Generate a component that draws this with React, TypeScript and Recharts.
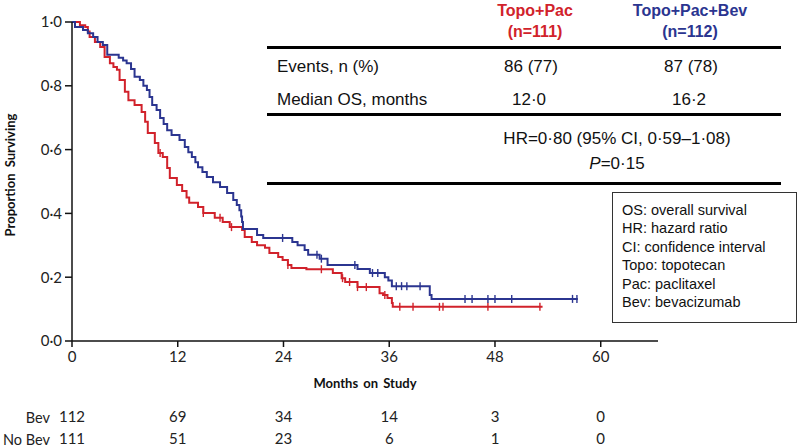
import React from 'react';
import { ComposedChart, Line, Scatter, XAxis, YAxis } from 'recharts';

// Kaplan-Meier steps: event time (months) and survival after it
const bevTimes = [0, 0.34, 1.25, 1.8, 2.4, 2.9, 3.5, 4.0, 5.3, 5.8, 6.2, 6.7, 7.1, 7.7, 8.1, 8.5, 8.8, 9.1, 9.6, 10.0, 10.4, 10.8, 11.3, 12.2, 12.8, 13.2, 13.6, 14.0, 14.3, 14.8, 15.3, 16.0, 16.8, 17.6, 18.3, 18.7, 19.0, 19.2, 19.3, 19.4, 21.0, 21.7, 25.0, 25.6, 26.4, 26.8, 28.1, 29.0, 32.4, 33.8, 35.5, 35.9, 36.3, 40.6, 40.8, 57.4];
const bevSurv = [1.0, 0.984, 0.975, 0.965, 0.953, 0.937, 0.928, 0.897, 0.888, 0.879, 0.871, 0.853, 0.828, 0.818, 0.8, 0.787, 0.765, 0.74, 0.724, 0.699, 0.68, 0.661, 0.646, 0.63, 0.608, 0.592, 0.577, 0.56, 0.545, 0.53, 0.514, 0.498, 0.483, 0.464, 0.442, 0.426, 0.41, 0.39, 0.373, 0.351, 0.332, 0.323, 0.31, 0.3, 0.285, 0.27, 0.258, 0.238, 0.226, 0.213, 0.2, 0.19, 0.172, 0.144, 0.132, 0.132];
const bevCensored = [23.9, 27.8, 28.3, 32.1, 34.1, 34.7, 36.8, 37.4, 38.0, 39.5, 44.6, 45.4, 47.2, 48.0, 49.9, 56.8, 57.3];

const noBevTimes = [0, 0.9, 1.5, 1.8, 2.0, 2.6, 3.2, 3.7, 4.3, 4.7, 5.1, 5.4, 6.0, 6.4, 7.1, 7.9, 8.3, 8.6, 9.4, 9.8, 10.3, 10.8, 11.1, 11.9, 12.5, 13.0, 13.3, 14.3, 14.9, 16.2, 17.1, 17.9, 19.3, 19.6, 20.4, 21.0, 21.9, 22.4, 23.4, 23.9, 24.5, 24.9, 26.6, 29.6, 30.6, 31.0, 32.4, 34.9, 35.3, 35.8, 36.3, 36.4, 53.4];
const noBevSurv = [1.0, 0.99, 0.984, 0.97, 0.953, 0.937, 0.922, 0.89, 0.871, 0.859, 0.85, 0.818, 0.781, 0.755, 0.74, 0.718, 0.687, 0.652, 0.621, 0.589, 0.577, 0.542, 0.511, 0.489, 0.47, 0.45, 0.433, 0.42, 0.401, 0.386, 0.373, 0.357, 0.348, 0.326, 0.31, 0.3, 0.292, 0.276, 0.263, 0.254, 0.238, 0.229, 0.225, 0.213, 0.197, 0.185, 0.169, 0.15, 0.144, 0.135, 0.119, 0.107, 0.107];
const noBevCensored = [10.0, 14.9, 16.8, 18.1, 24.5, 28.3, 30.7, 31.5, 32.4, 33.4, 35.5, 37.2, 38.7, 41.7, 42.1, 47.2, 53.1];

const monthTicks = [0, 12, 24, 36, 48, 60];
const atRiskBev = [112, 69, 34, 14, 3, 0];
const atRiskNoBev = [111, 51, 23, 6, 1, 0];
const survTicks = [0, 0.2, 0.4, 0.6, 0.8, 1.0];

const RED = '#d1222b';
const BLUE = '#2b3590';
const AXIS_FONT = 'Lato, "Open Sans", sans-serif';
const TABLE_FONT = '"Liberation Sans", Arial, sans-serif';

const toSeries = (times: number[], surv: number[]) => times.map((t, i) => ({ t, s: surv[i] }));

const survAt = (times: number[], surv: number[], t: number) => {
  let s = surv[0];
  for (let i = 0; i < times.length; i++) if (times[i] <= t) s = surv[i];
  return s;
};

const bevData = toSeries(bevTimes, bevSurv);
const noBevData = toSeries(noBevTimes, noBevSurv);
const bevMarks = bevCensored.map(t => ({ t, s: survAt(bevTimes, bevSurv, t) }));
const noBevMarks = noBevCensored.map(t => ({ t, s: survAt(noBevTimes, noBevSurv, t) }));

const censorShape = (color: string) => (props: any) => (
  <line x1={props.cx} x2={props.cx} y1={props.cy - 4} y2={props.cy + 4} stroke={color} strokeWidth={1.4} />
);

const MonthTick = (props: any) => {
  const { x, y, payload, index } = props;
  return (
    <g fontFamily={AXIS_FONT} fontSize={15} fill="#222" textAnchor="middle">
      <text x={x} y={y + 13}>{payload.value}</text>
      <text x={x} y={y + 73}>{atRiskBev[index]}</text>
      <text x={x} y={y + 95}>{atRiskNoBev[index]}</text>
    </g>
  );
};

const Txt: React.FC<{ x: number; y: number; anchor?: 'start' | 'middle'; style?: React.CSSProperties; children: React.ReactNode }> = ({ x, y, anchor = 'middle', style, children }) => (
  <div
    style={{
      position: 'absolute',
      left: x,
      top: y,
      transform: anchor === 'middle' ? 'translate(-50%, -50%)' : 'translate(0, -50%)',
      whiteSpace: 'nowrap',
      lineHeight: 1,
      fontFamily: TABLE_FONT,
      fontSize: 17,
      color: '#111',
      ...style,
    }}
  >
    {children}
  </div>
);

const Rule: React.FC<{ y: number }> = ({ y }) => (
  <div style={{ position: 'absolute', left: 267, width: 514, top: y - 1.5, height: 3, background: '#000' }} />
);

export default function App() {
  return (
    <div style={{ position: 'absolute', left: 0, top: 0, width: 800, height: 447, background: '#fff', overflow: 'hidden' }}>
      <ComposedChart width={800} height={447} margin={{ top: 22, right: 142, bottom: 0, left: 0 }}>
        <XAxis
          type="number"
          dataKey="t"
          domain={[0, 66.5]}
          ticks={monthTicks}
          height={106}
          tickSize={6}
          tick={<MonthTick />}
          stroke="#111"
          strokeWidth={1.5}
          allowDuplicatedCategory={false}
        />
        <YAxis
          type="number"
          dataKey="s"
          domain={[0, 1]}
          ticks={survTicks}
          width={72}
          tickSize={7}
          tickMargin={3}
          tickFormatter={(v: number) => v.toFixed(1).replace('.', '\u00b7')}
          tick={{ fontFamily: AXIS_FONT, fontSize: 15, fill: '#222' }}
          stroke="#111"
          strokeWidth={1.5}
        />
        <Line data={noBevData} dataKey="s" type="stepAfter" stroke={RED} strokeWidth={2} dot={false} isAnimationActive={false} />
        <Line data={bevData} dataKey="s" type="stepAfter" stroke={BLUE} strokeWidth={2} dot={false} isAnimationActive={false} />
        <Scatter data={noBevMarks} dataKey="s" shape={censorShape(RED)} isAnimationActive={false} />
        <Scatter data={bevMarks} dataKey="s" shape={censorShape(BLUE)} isAnimationActive={false} />
      </ComposedChart>

      <Txt x={10} y={175} style={{ fontFamily: AXIS_FONT, fontWeight: 700, fontSize: 13, transform: 'translate(-50%, -50%) rotate(-90deg)', wordSpacing: 3 }}>
        Proportion Surviving
      </Txt>
      <Txt x={365} y={383} style={{ fontFamily: AXIS_FONT, fontWeight: 700, fontSize: 13, wordSpacing: 2 }}>
        Months on Study
      </Txt>
      <Txt x={50} y={418} style={{ fontFamily: AXIS_FONT, fontSize: 14.5, transform: 'translate(-100%, -50%)', color: '#222' }}>Bev</Txt>
      <Txt x={50} y={440} style={{ fontFamily: AXIS_FONT, fontSize: 14.5, transform: 'translate(-100%, -50%)', color: '#222' }}>No Bev</Txt>

      <Txt x={535} y={11} style={{ color: RED, fontWeight: 700, fontSize: 16 }}>Topo+Pac</Txt>
      <Txt x={535} y={32} style={{ color: RED, fontWeight: 700, fontSize: 16 }}>(n=111)</Txt>
      <Txt x={690} y={11} style={{ color: BLUE, fontWeight: 700, fontSize: 16 }}>Topo+Pac+Bev</Txt>
      <Txt x={690} y={32} style={{ color: BLUE, fontWeight: 700, fontSize: 16 }}>(n=112)</Txt>
      <Rule y={47} />
      <Txt x={277} y={66} anchor="start">Events, n (%)</Txt>
      <Txt x={531} y={66}>86 (77)</Txt>
      <Txt x={691} y={66}>87 (78)</Txt>
      <Txt x={277} y={99} anchor="start">Median OS, months</Txt>
      <Txt x={529} y={99}>12·0</Txt>
      <Txt x={689} y={99}>16·2</Txt>
      <Rule y={114} />
      <Txt x={617} y={138}>HR=0·80 (95% CI, 0·59–1·08)</Txt>
      <Txt x={617} y={163}><i>P</i>=0·15</Txt>
      <Rule y={183} />

      <div
        style={{
          position: 'absolute',
          left: 612,
          top: 192,
          width: 185,
          height: 131,
          boxSizing: 'border-box',
          border: '1px solid #333',
          padding: '8px 0 0 9px',
          fontFamily: TABLE_FONT,
          fontSize: 14.5,
          lineHeight: '18.4px',
          color: '#111',
        }}
      >
        <div>OS: overall survival</div>
        <div>HR: hazard ratio</div>
        <div>CI: confidence interval</div>
        <div>Topo: topotecan</div>
        <div>Pac: paclitaxel</div>
        <div>Bev: bevacizumab</div>
      </div>
    </div>
  );
}
